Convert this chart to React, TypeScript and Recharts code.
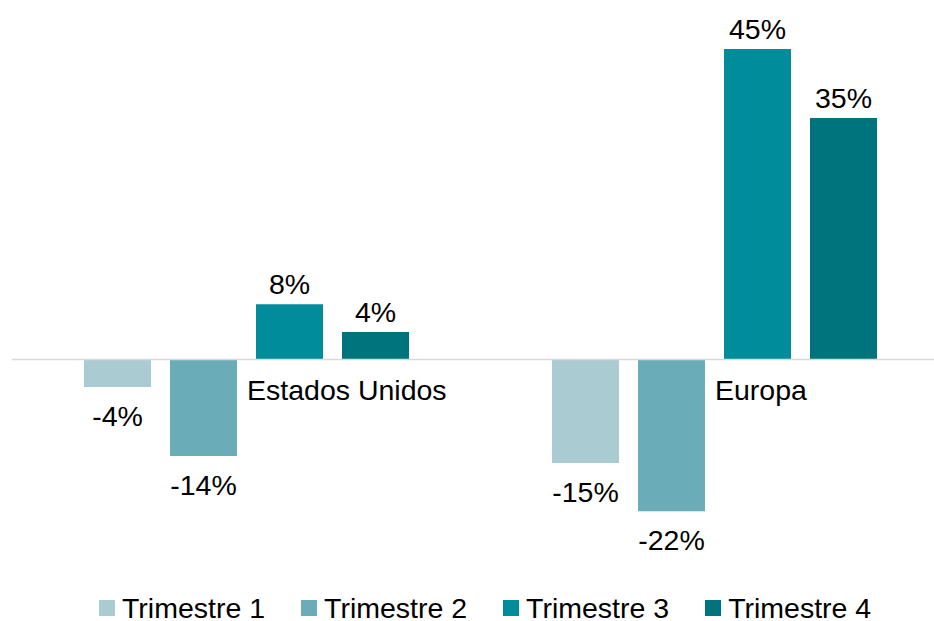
import React from 'react';
import { BarChart, Bar, XAxis, YAxis, Legend, ReferenceLine, LabelList } from 'recharts';

const regions = ['Estados Unidos', 'Europa'];
const quarters = ['Trimestre 1', 'Trimestre 2', 'Trimestre 3', 'Trimestre 4'];
const q1 = [-4, -15];
const q2 = [-14, -22];
const q3 = [8, 45];
const q4 = [4, 35];
const colors = ['#abcbd2', '#6aacb8', '#008c9a', '#00747d'];

const data = regions.map((name, i) => ({
  name,
  q1: q1[i],
  q2: q2[i],
  q3: q3[i],
  q4: q4[i],
}));
const keys = ['q1', 'q2', 'q3', 'q4'];

const FONT = '"Liberation Sans", Arial, sans-serif';
const FS = 28.5;

const ValueLabel = (props: any) => {
  const { x, y, width, height, value } = props;
  const cx = x + width / 2;
  const top = Math.min(y, y + height);
  const bottom = Math.max(y, y + height);
  const ty = value >= 0 ? top - 10 : bottom + 39;
  return (
    <text x={cx} y={ty} textAnchor="middle" fontSize={FS} fill="#000" fontFamily={FONT}>
      {value}%
    </text>
  );
};

const RegionTick = (props: any) => {
  const { x, payload } = props;
  return (
    <text x={x + 1} y={400} textAnchor="start" fontSize={FS} fill="#000" fontFamily={FONT}>
      {payload.value}
    </text>
  );
};

const LegendContent = () => (
  <div style={{ display: 'flex', gap: 36, fontFamily: FONT, fontSize: FS, color: '#000', lineHeight: '24px', height: 24 }}>
    {quarters.map((q, i) => (
      <div key={q} style={{ display: 'flex', alignItems: 'center', height: 24 }}>
        <span style={{ width: 16, height: 16, background: colors[i], marginRight: 7, display: 'inline-block' }} />
        <span>{q}</span>
      </div>
    ))}
  </div>
);

export default function App() {
  return (
    <div style={{ position: 'fixed', top: 0, left: 0, width: 934, height: 621, overflow: 'hidden', background: '#fff' }}>
      <BarChart
        width={934}
        height={621}
        data={data}
        margin={{ top: 14.5, right: -14, left: 12, bottom: 53.5 }}
        barSize={67}
        barGap={19}
      >
        <XAxis dataKey="name" axisLine={false} tickLine={false} height={1} tick={<RegionTick />} interval={0} />
        <YAxis hide domain={[-30, 50]} />
        <ReferenceLine y={0} stroke="#d9d9d9" strokeWidth={1.5} />
        {keys.map((k, i) => (
          <Bar key={k} dataKey={k} name={quarters[i]} fill={colors[i]} isAnimationActive={false}>
            <LabelList dataKey={k} content={<ValueLabel />} />
          </Bar>
        ))}
        <Legend
          verticalAlign="middle"
          align="center"
          content={<LegendContent />}
          wrapperStyle={{ top: 596, left: 99, width: 835, height: 24 }}
        />
      </BarChart>
    </div>
  );
}
